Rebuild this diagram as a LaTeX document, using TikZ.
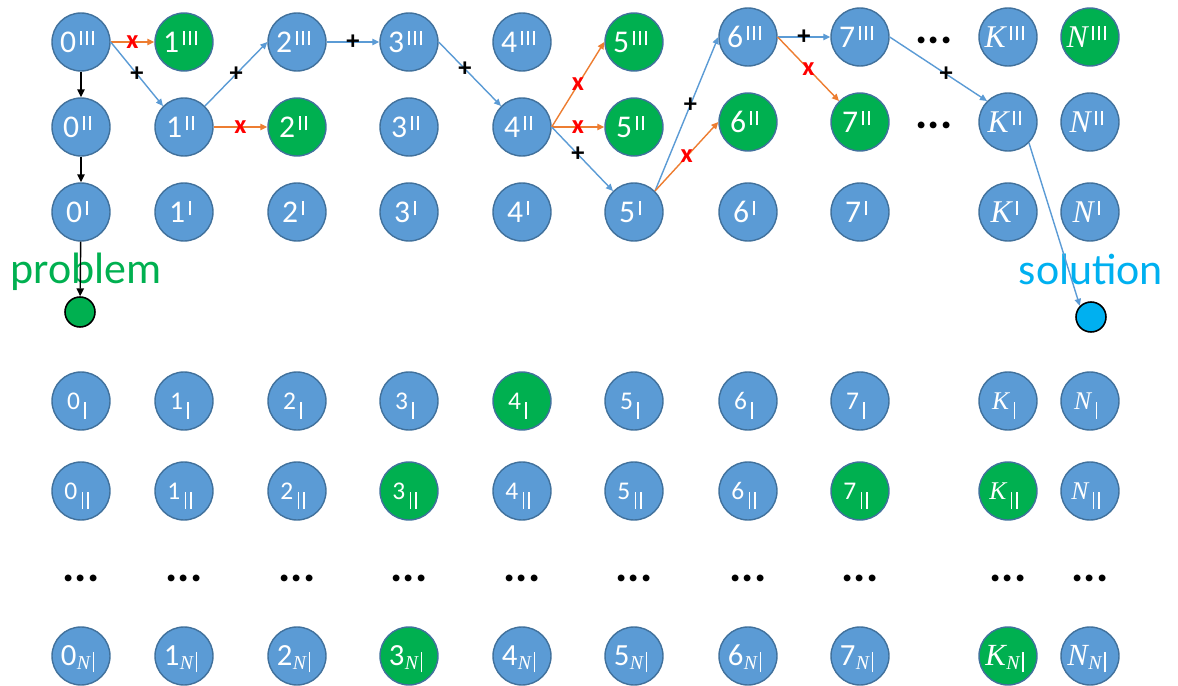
\documentclass[tikz,border=0pt]{standalone}
\usepackage{fontspec}
\setmainfont{Carlito}
\newfontfamily\kfont{Liberation Serif}
\usetikzlibrary{arrows.meta, positioning}

\definecolor{vblue}{HTML}{5B9BD5}
\definecolor{vedge}{HTML}{41719C}
\definecolor{vgreen}{HTML}{00B050}
\definecolor{vorange}{HTML}{ED7D31}
\definecolor{vsky}{HTML}{00B0F0}

% bars for the level marks
\newcommand{\upbar}{\rule[3.8pt]{1.1pt}{8.1pt}}
\newcommand{\upI}{\kern2.3pt\upbar\kern4.5pt}
\newcommand{\upII}{\kern2.3pt\upbar\kern2.3pt\upbar\kern4.5pt}
\newcommand{\upIII}{\kern2.3pt\upbar\kern2.3pt\upbar\kern2.3pt\upbar\kern4.5pt}
\newcommand{\lowbar}{\rule[-5.7pt]{0.9pt}{10pt}}
\newcommand{\lowI}{\kern2.5pt\lowbar\kern5pt}
\newcommand{\lowII}{\kern2.5pt\lowbar\kern2.3pt\lowbar\kern5pt}
\newcommand{\lowN}{\kern0.3pt\raisebox{-1.9pt}{\kfont\itshape\fontsize{11.2}{11.2}\selectfont N}\kern1.4pt\rule[-3.8pt]{0.9pt}{11.4pt}\kern4pt}
\newcommand{\symK}{{\kfont\itshape K}}
\newcommand{\symN}{{\kfont\itshape N}}

\tikzset{
  g-1-3/.style={fill=vgreen}, g-5-3/.style={fill=vgreen}, g-N-3/.style={fill=vgreen},
  g-2-2/.style={fill=vgreen}, g-5-2/.style={fill=vgreen}, g-6-2/.style={fill=vgreen},
  g-7-2/.style={fill=vgreen},
  g-4-a/.style={fill=vgreen}, g-3-b/.style={fill=vgreen}, g-7-b/.style={fill=vgreen},
  g-K-b/.style={fill=vgreen}, g-3-n/.style={fill=vgreen}, g-K-n/.style={fill=vgreen}
}

\begin{document}
\begin{tikzpicture}[x=0.02cm, y=-0.02cm,
    vtx/.style={circle, draw=vedge, line width=0.8pt, fill=vblue, text=white,
      minimum size=1.16cm, inner sep=0pt, text depth=0pt},
    rowtop/.style={vtx, font=\fontsize{18}{18}\selectfont, text height=11.4pt},
    rowlow/.style={vtx, font=\fontsize{14.5}{14.5}\selectfont, text height=9.2pt},
    rowend/.style={vtx, font=\fontsize{17.5}{17.5}\selectfont, text height=11pt},
    goal/.style={circle, draw=black, line width=0.9pt, minimum size=0.6cm, inner sep=0pt},
    dots/.style={font=\fontsize{26}{26}\selectfont\bfseries, inner sep=0pt},
    arr/.style={-{Triangle[length=4pt,width=3.6pt]}, line width=0.8pt},
    good/.style={arr, draw=vblue},
    bad/.style={arr, draw=vorange},
    down/.style={arr, draw=black, -{Triangle[length=4.5pt,width=4.2pt]}},
    plus/.style={font=\fontsize{15}{15}\selectfont\bfseries, inner sep=0pt},
    cross/.style={font=\fontsize{15}{15}\selectfont\bfseries, text=red, inner sep=0pt}
  ]
  \path[use as bounding box] (0,0) rectangle (1178,686);

  % grid of states
  \foreach \c/\x/\dy/\l in {0/81/0/0, 1/184/0/1, 2/297/0/2, 3/409/0/3, 4/522/0/4,
      5/634/0/5, 6/748/-5/6, 7/860/-5/7, K/1008/-5/\symK, N/1090/-5/\symN} {
    \node[rowtop, g-\c-3/.try] (\c-3) at (\x,{42+\dy}) {\l\upIII};
    \node[rowtop, g-\c-2/.try] (\c-2) at (\x,{127+\dy}) {\l\upII};
    \node[rowtop] (\c-1) at (\x,212) {\l\upI};
    \node[rowlow, g-\c-a/.try] (\c-a) at (\x,401) {\l\lowI};
    \node[rowlow, g-\c-b/.try] (\c-b) at (\x,491) {\l\lowII};
    \node[dots] (d-\c) at (\x,578) {...};
    \node[rowend, g-\c-n/.try] (\c-n) at (\x,656) {\l\lowN};
  }
  \node[dots] (d-3x) at (934,40) {...};
  \node[dots] (d-2x) at (934,125) {...};

  \node[font=\fontsize{25}{25}\selectfont, text=vgreen, anchor=base] (ptxt) at (86,283) {problem};
  \node[font=\fontsize{25}{25}\selectfont, text=vsky, anchor=base] (stxt) at (1091,285) {solution};
  \node[goal, fill=vgreen] (prob) at (80,312) {};
  \node[goal, fill=vsky] (sol) at (1091,317) {};

  \draw[down] (0-3) -- (0-2);
  \draw[down] (0-2) -- (0-1);
  \draw[down] (0-1) -- (prob);

  \draw[bad] (0-3.east) -- node[cross] (x1) {x} (1-3.west);
  \draw[good] (0-3.east) -- node[plus] (p1) {+} (1-2.north west);
  \draw[good] (1-2.north east) -- node[plus] (p2) {+} (2-3.west);
  \draw[bad] (1-2.east) -- node[cross] (x2) {x} (2-2.west);
  \draw[good] (2-3.east) -- node[plus] (p3) {+} (3-3.west);
  \draw[good] (3-3.east) -- node[plus, pos=0.42] (p4) {+} (4-2.north west);
  \draw[bad] (4-2.east) -- node[cross] (x3) {x} (5-3.west);
  \draw[bad] (4-2.east) -- node[cross] (x4) {x} (5-2.west);
  \draw[good] (4-2.east) -- node[plus, pos=0.43] (p5) {+} (5-1.north west);
  \draw[good] (5-1.north east) -- node[plus, pos=0.56] (p6) {+} (6-3.west);
  \draw[bad] (5-1.north east) -- node[cross] (x5) {x} (6-2.west);
  \draw[good] (6-3.east) -- node[plus] (p7) {+} (7-3.west);
  \draw[bad] (6-3.east) -- node[cross] (x6) {x} (7-2.north west);
  \draw[good] (7-3.east) -- node[plus, pos=0.58] (p8) {+} (K-2.north west);
  \draw[good] (K-2.south east) -- (sol.north west);
\end{tikzpicture}
\end{document}
